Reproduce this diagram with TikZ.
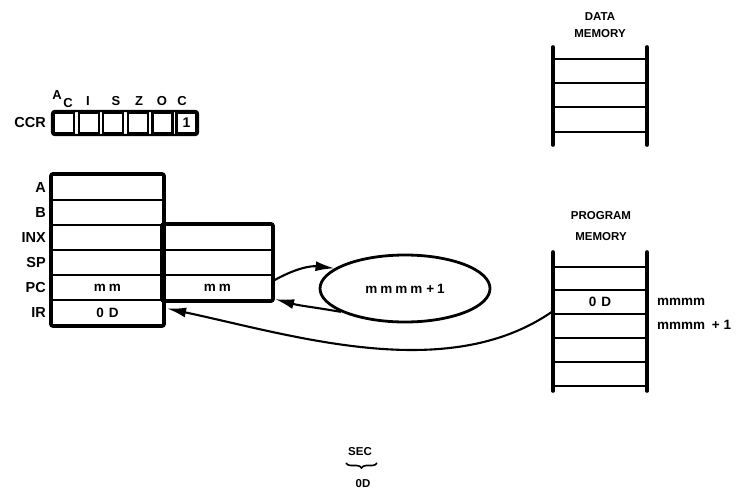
\documentclass[tikz,border=0pt]{standalone}
\usepackage{fontspec}
\setmainfont{Liberation Sans}
\usetikzlibrary{arrows.meta,shapes.geometric,decorations.pathreplacing}
\begin{document}
\begin{tikzpicture}[x=1pt,y=-1pt,
  cellL/.style={draw,line width=2.2pt,minimum width=111pt,minimum height=25pt,inner sep=0pt,font=\fontsize{13.5}{13.5}\selectfont\bfseries},
  cellR/.style={cellL,minimum width=109pt},
  outline/.style={line width=3.4pt,rounded corners=2pt},
  lab/.style={anchor=east,inner sep=0pt,font=\fontsize{14.5}{14.5}\selectfont\bfseries},
  flag/.style={draw,line width=2.2pt,minimum width=20pt,minimum height=21pt,inner sep=0pt,font=\fontsize{14}{14}\selectfont\bfseries},
  flaglab/.style={inner sep=0pt,font=\fontsize{13}{13}\selectfont\bfseries},
  title/.style={inner sep=0pt,font=\fontsize{11.5}{11.5}\selectfont\bfseries},
  small/.style={inner sep=0pt,font=\fontsize{13.5}{13.5}\selectfont\bfseries},
  rail/.style={line width=3.6pt,line cap=round},
  rung/.style={line width=2.8pt},
  arr/.style={line width=2.1pt,-{Latex[length=19pt,width=10pt]}}
]
\useasboundingbox (0,0) rectangle (754,490);

% CCR
\node[lab] (ccrlab) at (46,123) {CCR};
\draw[line width=2.4pt,rounded corners=3pt] (52,111) rectangle (198,135);
\node[flag] (f1) at (64,123) {};
\node[flag] (f2) at (88.6,123) {};
\node[flag] (f3) at (113.2,123) {};
\node[flag] (f4) at (137.8,123) {};
\node[flag] (f5) at (162.4,123) {};
\node[flag] (f6) at (186.5,123) {1};
\node[flaglab] (la) at (57,95) {A};
\node[flaglab] (lc1) at (68,103) {C};
\node[flaglab] (li) at (88,101) {I};
\node[flaglab] (ls) at (116,101) {S};
\node[flaglab] (lz) at (139,101) {Z};
\node[flaglab] (lo) at (162,101) {O};
\node[flaglab] (lc2) at (182,101) {C};

% Register file
\node[cellL] (regA) at (107.5,187.5) {};
\node[cellL] (regB) at (107.5,212.5) {};
\node[cellL] (inxL) at (107.5,237.5) {};
\node[cellL] (spL)  at (107.5,262.5) {};
\node[cellL] (pcL)  at (107.5,287.5) {m\kern3pt m};
\node[cellL] (ir)   at (107.5,312.5) {0\kern5pt D};
\node[cellR] (inxR) at (217.5,237.5) {};
\node[cellR] (spR)  at (217.5,262.5) {};
\node[cellR] (pcR)  at (217.5,287.5) {m\kern3pt m};
\draw[outline] (regA.north west) rectangle (ir.south east);
\draw[outline] (inxR.north west) rectangle (pcR.south east);

\node[lab] at (46,187.5) {A};
\node[lab] at (46,212.5) {B};
\node[lab] at (46,237.5) {INX};
\node[lab] at (46,262.5) {SP};
\node[lab] at (46,287.5) {PC};
\node[lab] at (46,312.5) {IR};

% Incrementer
\node[draw,ellipse,line width=2.8pt,minimum width=170pt,minimum height=67pt,inner sep=0pt,
      font=\fontsize{13.5}{13.5}\selectfont\bfseries] (inc) at (405,288.5)
      {m\kern3pt m\kern3pt m\kern3pt m\kern4pt +\kern3pt 1};

% Data memory
\node[title] (dmt1) at (600,17) {DATA};
\node[title] (dmt2) at (600,34) {MEMORY};
\draw[rail] (553,47) -- (553,145);
\draw[rail] (647,47) -- (647,145);
\foreach \yy in {59,83,107,132} \draw[rung] (553,\yy) -- (647,\yy);

% Program memory
\node[title] (pmt1) at (601,216) {PROGRAM};
\node[title] (pmt2) at (601,237) {MEMORY};
\draw[rail] (553,252) -- (553,391);
\draw[rail] (647,252) -- (647,391);
\foreach \yy in {267,290,314,338,362,386} \draw[rung] (553,\yy) -- (647,\yy);
\node[minimum width=94pt,minimum height=24pt,inner sep=0pt,font=\fontsize{13.5}{13.5}\selectfont\bfseries] (pm0D) at (600,302) {0\kern5pt D};
\node[small,anchor=west] (addr1) at (657,302) {mmmm};
\node[small,anchor=west] (addr2) at (657,325) {mmmm\kern3pt{} + 1};

% Arrows
\draw[arr] ([yshift=-7pt]pcR.north east) to[bend left=18] (inc.164);
\draw[arr] (inc.200) to[out=170,in=-15] ([xshift=2pt,yshift=2pt]pcR.south east);
\draw[arr] ([yshift=3pt]pm0D.south west) to[out=215,in=-12,looseness=0.85] ([xshift=3pt,yshift=4pt]ir.east);

% SEC / 0D
\node[title] (sec) at (360,452) {SEC};
\node[title] (od) at (363,484) {0D};
\draw[decorate,decoration={brace,amplitude=5pt},line width=1.6pt] (377,463) -- (346,463);
\end{tikzpicture}
\end{document}
